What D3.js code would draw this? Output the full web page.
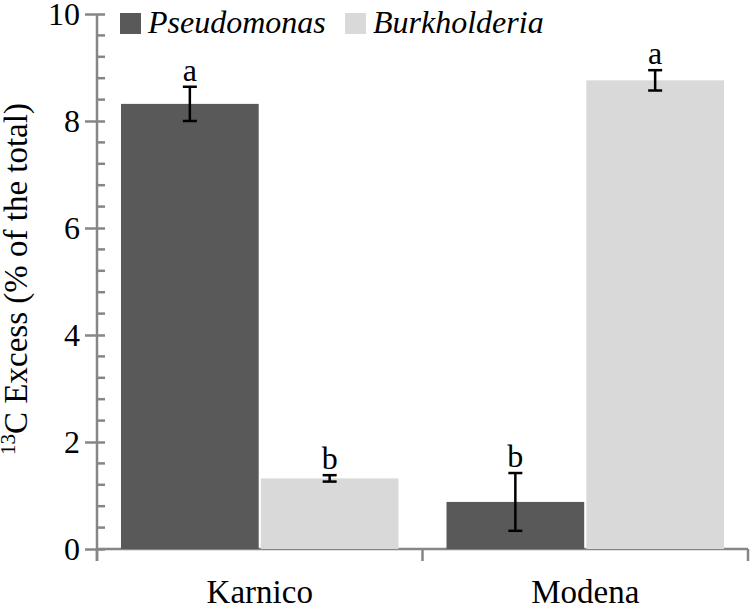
<!DOCTYPE html>
<html><head><meta charset="utf-8">
<script src="https://cdn.jsdelivr.net/npm/d3@7"></script>
<style>body{margin:0;background:#fff}svg{display:block}text{font-family:"Liberation Serif","Times New Roman",serif}</style>
</head><body>
<script>
const categories = ["Karnico", "Modena"];
const seriesNames = ["Pseudomonas", "Burkholderia"];
const pseudomonas = [8.32, 0.88];
const burkholderia = [1.32, 8.76];
const pseudomonasErr = [0.32, 0.54];
const burkholderiaErr = [0.06, 0.19];
const pseudomonasLetters = ["a", "b"];
const burkholderiaLetters = ["b", "a"];
const yTicks = [0, 2, 4, 6, 8, 10];
const colors = ["#595959", "#d9d9d9"];

const FONT = '"Liberation Serif", "Times New Roman", serif';
const W = 750, H = 607;
const svg = d3.select("body").append("svg").attr("width", W).attr("height", H).attr("font-family", FONT);
const x0 = 97, x1 = 748, yTop = 14, yBot = 549;
const y = d3.scaleLinear().domain([0, 10]).range([yBot, yTop]);
const x = d3.scaleBand().domain(categories).range([x0, x1]).paddingInner(0).paddingOuter(0);
const xs = d3.scaleBand().domain(seriesNames).range([24, x.bandwidth() - 24]).paddingInner(0.015).paddingOuter(0);

const series = [
  {name: seriesNames[0], vals: pseudomonas, err: pseudomonasErr, letters: pseudomonasLetters, color: colors[0]},
  {name: seriesNames[1], vals: burkholderia, err: burkholderiaErr, letters: burkholderiaLetters, color: colors[1]}
];

const axisColor = "#868686";
// minor ticks
const minor = d3.range(0, 10.001, 0.4).filter(v => Math.abs(v/2 - Math.round(v/2)) > 1e-6);
svg.append("g").selectAll("line").data(minor).join("line")
  .attr("x1", x0).attr("x2", x0 + 8).attr("y1", d => y(d)).attr("y2", d => y(d))
  .attr("stroke", axisColor).attr("stroke-width", 2.5);
// y axis
const yAxis = d3.axisLeft(y).tickValues(yTicks).tickSize(12).tickFormat(d3.format("d"));
const gy = svg.append("g").attr("transform", `translate(${x0},0)`).call(yAxis).attr("font-family", FONT);
gy.select(".domain").remove();
gy.selectAll(".tick line").attr("stroke", axisColor).attr("stroke-width", 2.5).attr("x2", -12).attr("x1", 8);
gy.selectAll(".tick text").attr("font-size", 32).attr("fill", "#000").attr("x", -17).attr("dy", "0.34em")
  .attr("font-family", FONT);
svg.append("line").attr("x1", x0).attr("x2", x0).attr("y1", yTop).attr("y2", yBot + 12)
  .attr("stroke", axisColor).attr("stroke-width", 2.5);

// x axis
svg.append("line").attr("x1", x0).attr("x2", x1).attr("y1", yBot).attr("y2", yBot)
  .attr("stroke", axisColor).attr("stroke-width", 2.5);
const xb = [x0, ...categories.map(c => x(c) + x.bandwidth())];
svg.append("g").selectAll("line").data(xb).join("line")
  .attr("x1", d => d).attr("x2", d => d).attr("y1", yBot).attr("y2", yBot + 12)
  .attr("stroke", axisColor).attr("stroke-width", 2.5);
svg.append("g").selectAll("text").data(categories).join("text")
  .attr("x", d => x(d) + x.bandwidth()/2).attr("y", 603).attr("text-anchor", "middle")
  .attr("font-size", 33).attr("fill", "#000").attr("font-family", FONT).text(d => d);

// bars
series.forEach(s => {
  const g = svg.append("g");
  categories.forEach((c, i) => {
    const bx = x(c) + xs(s.name), bw = xs.bandwidth();
    g.append("rect").attr("x", bx).attr("y", y(s.vals[i])).attr("width", bw)
      .attr("height", y(0) - y(s.vals[i])).attr("fill", s.color);
    const cx = bx + bw/2;
    const top = y(s.vals[i] + s.err[i]), bot = y(s.vals[i] - s.err[i]);
    g.append("line").attr("x1", cx).attr("x2", cx).attr("y1", top).attr("y2", bot).attr("stroke", "#000").attr("stroke-width", 2.5);
    [top, bot].forEach(yy => g.append("line").attr("x1", cx - 7).attr("x2", cx + 7).attr("y1", yy).attr("y2", yy).attr("stroke", "#000").attr("stroke-width", 2.5));
    g.append("text").attr("x", cx).attr("y", top - 6).attr("text-anchor", "middle")
      .attr("font-size", 32).attr("fill", "#000").attr("font-family", FONT).text(s.letters[i]);
  });
});

// legend
const leg = svg.append("g");
const legX = [120, 345];
series.forEach((s, i) => {
  leg.append("rect").attr("x", legX[i]).attr("y", 13).attr("width", 21).attr("height", 21).attr("fill", s.color);
  leg.append("text").attr("x", legX[i] + 28).attr("y", 33).attr("font-size", 32).attr("font-style", "italic")
    .attr("font-family", FONT).attr("fill", "#000").text(s.name);
});

// y label
const yl = svg.append("text").attr("transform", "translate(27,279) rotate(-90)").attr("text-anchor", "middle")
  .attr("font-size", 33).attr("font-family", FONT).attr("fill", "#000");
yl.append("tspan").attr("font-size", 21).attr("dy", "-0.55em").text("13");
yl.append("tspan").attr("dy", "0.36em").text("C Excess (% of the total)");
</script>
</body></html>
